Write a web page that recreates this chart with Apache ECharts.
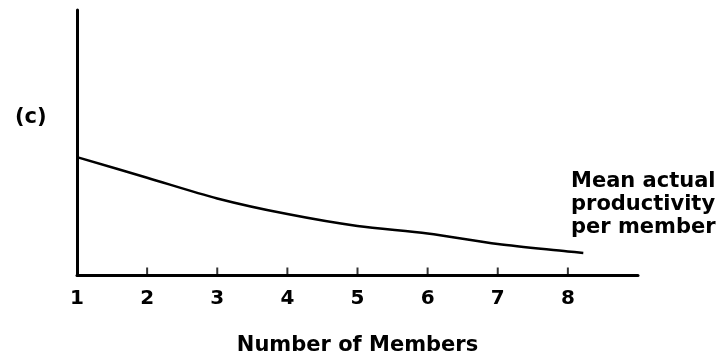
<!DOCTYPE html>
<html>
<head>
<meta charset="utf-8">
<script src="https://cdn.jsdelivr.net/npm/echarts@6/dist/echarts.min.js"></script>
<style>
  html, body { margin: 0; padding: 0; background: #fff; }
  #chart { width: 722px; height: 362px; }
</style>
</head>
<body>
<div id="chart"></div>
<script>
// Group size (number of members) and mean actual productivity per member
const members = [1, 2, 3, 4, 5, 6, 7, 8, 8.22];
const productivity = [44.5, 36.7, 28.9, 23.0, 18.5, 15.7, 11.7, 8.9, 8.3];
const tickValues = [2, 3, 4, 5, 6, 7, 8];
const labelValues = [1, 2, 3, 4, 5, 6, 7, 8];
const panelLabel = '(c)';
const xTitle = 'Number of Members';
const curveNote = ['Mean actual', 'productivity', 'per member'];

const FONT = 'DejaVu Sans';
const chart = echarts.init(document.getElementById('chart'), null, { renderer: 'canvas' });

chart.setOption({
  animation: false,
  backgroundColor: '#ffffff',
  grid: { left: 77, right: 84, top: 10, bottom: 87 },
  xAxis: {
    type: 'value',
    min: 1,
    max: 9,
    interval: 1,
    splitLine: { show: false },
    axisLine: { show: true, onZero: false, lineStyle: { color: '#000', width: 3 } },
    axisTick: { show: false },
    axisLabel: {
      customValues: labelValues,
      margin: 14,
      color: '#000',
      fontFamily: FONT,
      fontSize: 20,
      fontWeight: 'bold'
    },
    name: xTitle,
    nameLocation: 'middle',
    nameGap: 60,
    nameTextStyle: { color: '#000', fontFamily: FONT, fontSize: 21, fontWeight: 'bold' }
  },
  yAxis: {
    type: 'value',
    min: 0,
    max: 100,
    splitLine: { show: false },
    axisLine: { show: true, lineStyle: { color: '#000', width: 3 } },
    axisTick: { show: false },
    axisLabel: { show: false }
  },
  series: [
    {
      type: 'line',
      data: members.map((m, i) => [m, productivity[i]]),
      smooth: 0.3,
      symbol: 'none',
      lineStyle: { color: '#000', width: 2.5 }
    },
    {
      // small upward tick marks standing on the member axis
      type: 'scatter',
      data: tickValues.map(v => [v, 0]),
      symbol: 'rect',
      symbolSize: [2, 7],
      symbolOffset: [0, -4],
      itemStyle: { color: '#000' },
      clip: false,
      silent: true
    }
  ],
  graphic: [
    {
      type: 'text',
      left: 15,
      top: 107,
      style: { text: panelLabel, fill: '#000', font: 'bold 21px "' + FONT + '"' }
    },
    {
      type: 'text',
      left: 571,
      top: 170,
      style: {
        text: curveNote.join('\n'),
        fill: '#000',
        font: 'bold 21px "' + FONT + '"',
        lineHeight: 23
      }
    }
  ]
});
</script>
</body>
</html>
